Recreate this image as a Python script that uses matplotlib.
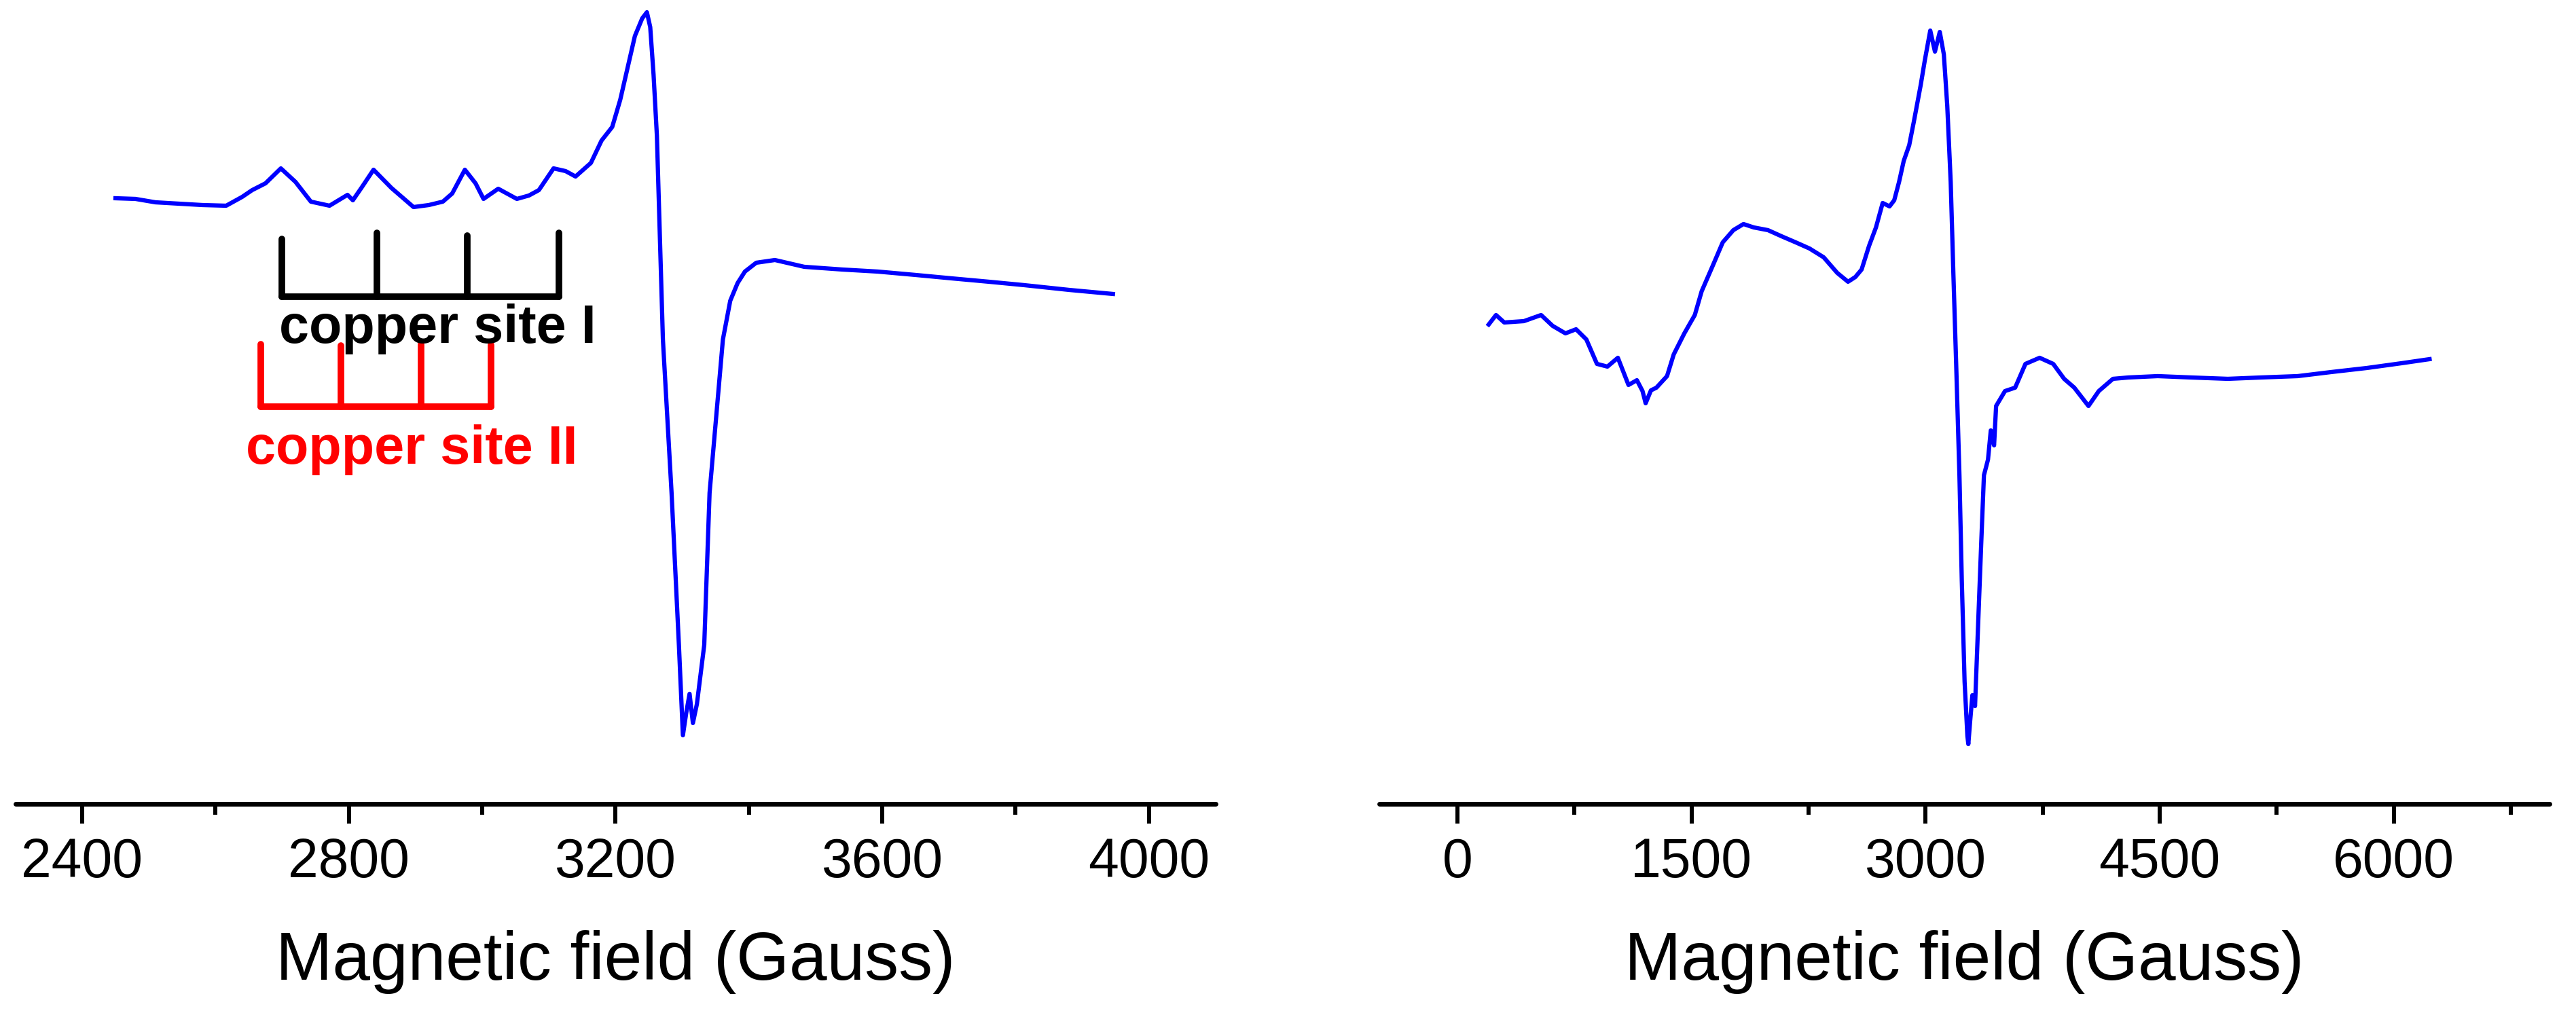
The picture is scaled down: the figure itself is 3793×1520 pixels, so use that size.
import matplotlib
matplotlib.use("Agg")
import matplotlib.pyplot as plt
from matplotlib.ticker import MultipleLocator

plt.rcParams['font.family'] = ['Liberation Sans', 'DejaVu Sans']

# left spectrum (field in Gauss, intensity in arb. units)
left_field = [2450, 2480, 2510, 2545, 2580, 2616, 2640, 2655, 2675, 2698, 2720,
              2743, 2771, 2798, 2806, 2820, 2837, 2850, 2864, 2897, 2920, 2941,
              2955, 2974, 2990, 3002, 3024, 3052, 3070, 3085, 3107, 3125, 3140,
              3163, 3179, 3195, 3207, 3218, 3229, 3240, 3247, 3252, 3257, 3262,
              3271, 3284, 3295, 3301, 3306, 3311, 3316, 3322, 3333, 3341, 3361,
              3372, 3383, 3394, 3411, 3439, 3483, 3540, 3593, 3650, 3704, 3760,
              3813, 3880, 3946]
left_signal = [892, 891, 886, 884, 882, 881, 894, 904, 914, 936, 916,
               887, 881, 897, 889, 909, 934, 921, 907, 879, 882, 887,
               899, 934, 914, 891, 906, 891, 896, 904, 936, 932, 924,
               944, 977, 997, 1037, 1084, 1131, 1157, 1166, 1144, 1074, 984,
               684, 458, 234, 101, 134, 162, 119, 147, 234, 458, 684,
               741, 767, 784, 797, 801, 791, 787, 784, 779, 774, 769,
               764, 757, 751]

# right spectrum
right_field = [200, 247, 300, 426, 536, 610, 692, 760, 826, 894, 961, 1028,
               1096, 1150, 1186, 1206, 1240, 1275, 1343, 1386, 1454, 1521,
               1565, 1633, 1700, 1768, 1833, 1899, 1990, 2077, 2168, 2256,
               2347, 2434, 2503, 2550, 2590, 2638, 2682, 2725, 2769, 2799,
               2830, 2860, 2895, 2925, 2969, 2995, 3030, 3060, 3091, 3117,
               3139, 3161, 3178, 3196, 3217, 3232, 3250, 3268, 3274, 3285,
               3300, 3317, 3340, 3357, 3374, 3400, 3418, 3439, 3452, 3509,
               3574, 3640, 3731, 3818, 3888, 3953, 4044, 4110, 4201, 4300,
               4488, 4700, 4937, 5150, 5385, 5600, 5829, 6050, 6230]
right_signal = [706, 720, 709, 711, 720, 704, 693, 699, 684, 648, 644, 657,
                617, 624, 608, 590, 609, 613, 630, 662, 693, 720,
                755, 791, 827, 845, 854, 849, 845, 836, 827, 818,
                805, 782, 769, 776, 787, 822, 849, 885, 880, 889,
                916, 947, 970, 1005, 1059, 1095, 1139, 1108, 1137, 1104,
                1028, 916, 782, 648, 484, 330, 180, 100, 88, 120,
                160, 144, 284, 386, 484, 507, 550, 528, 586, 608,
                613, 648, 657, 648, 626, 613, 586, 608, 626, 628,
                630, 628, 626, 628, 630, 636, 642, 649, 655]

# hyperfine stick diagrams
site1_lines = [2700, 2842, 2978, 3115]
site1_tops = [832, 841, 837, 841]
site1_base = 747
site2_lines = [2668, 2788, 2908, 3013]
site2_tops = [677, 675, 677, 676]
site2_base = 585

left_ticks = [2400, 2800, 3200, 3600, 4000]
right_ticks = [0, 1500, 3000, 4500, 6000]

fig = plt.figure(figsize=(37.93, 15.2), dpi=100)
ax1 = fig.add_axes([0.00601, 0.2211, 0.4659, 0.7789])
ax2 = fig.add_axes([0.5355, 0.2211, 0.4543, 0.7789])


def style_axis(ax):
    for s in ['top', 'left', 'right']:
        ax.spines[s].set_visible(False)
    ax.spines['bottom'].set_linewidth(5)
    ax.spines['bottom'].set_capstyle('round')
    ax.set_yticks([])
    ax.set_ylim(0, 1184)
    ax.tick_params(axis='x', which='major', length=21, width=4.3, pad=14,
                   labelsize=58, direction='out')
    ax.tick_params(axis='x', which='minor', length=11.5, width=4.3,
                   direction='out')
    ax.set_xlabel('Magnetic field (Gauss)', fontsize=72, labelpad=44)
    ax.patch.set_visible(False)


ax1.plot(left_field, left_signal, color='#0000ff', lw=4.5)
ax1.set_xlim(2300, 4100)
ax1.set_xticks(left_ticks)
ax1.xaxis.set_minor_locator(MultipleLocator(200))
style_axis(ax1)

# copper site I comb
ax1.plot([site1_lines[0], site1_lines[-1]], [site1_base, site1_base],
         color='black', lw=7, solid_capstyle='round')
for xl, yt in zip(site1_lines, site1_tops):
    ax1.plot([xl, xl], [site1_base, yt], color='black', lw=7,
             solid_capstyle='round')
ax1.text(2695, 679, 'copper site I', fontsize=57, fontweight='bold',
         color='black', ha='left', va='baseline')

# copper site II comb
ax1.plot([site2_lines[0], site2_lines[-1]], [site2_base, site2_base],
         color='#ff0000', lw=7, solid_capstyle='round')
for xl, yt in zip(site2_lines, site2_tops):
    ax1.plot([xl, xl], [site2_base, yt], color='#ff0000', lw=7,
             solid_capstyle='round')
ax1.text(2646, 501, 'copper site II', fontsize=57, fontweight='bold',
         color='#ff0000', ha='left', va='baseline')

ax2.plot(right_field, right_signal, color='#0000ff', lw=4.5)
ax2.set_xlim(-500, 7000)
ax2.set_xticks(right_ticks)
ax2.xaxis.set_minor_locator(MultipleLocator(750))
style_axis(ax2)

fig.savefig('out.png', dpi=100)
